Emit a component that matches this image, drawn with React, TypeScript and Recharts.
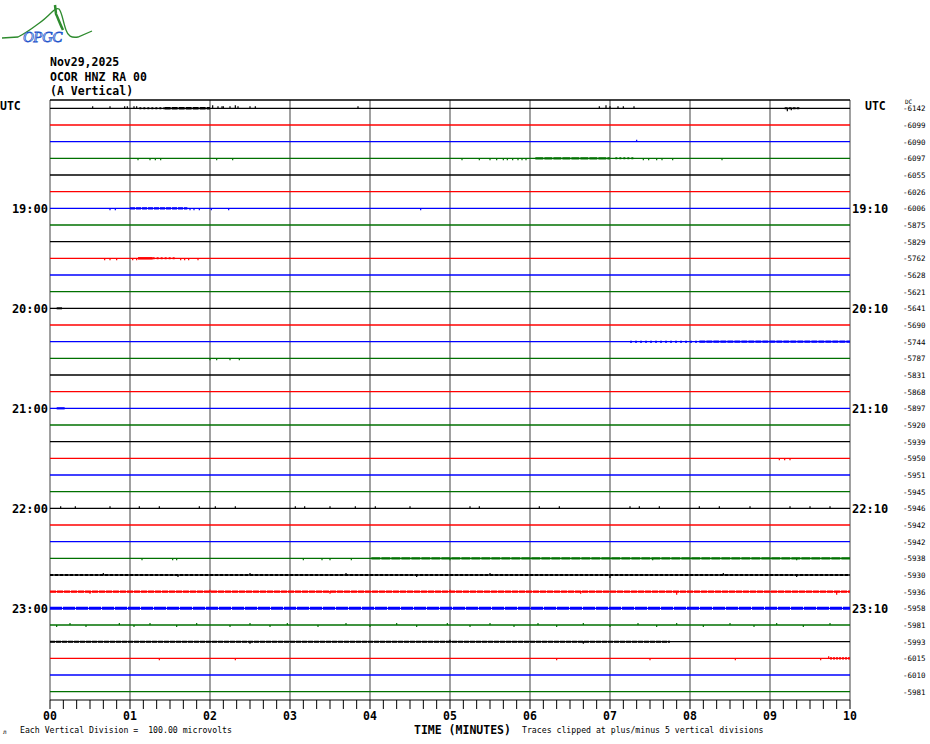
import React from 'react';
import { ComposedChart, Line, Scatter, XAxis, YAxis, ReferenceLine } from 'recharts';

// ---------- data ----------
const TRACE_COLORS = ['#000000', '#ff0000', '#0000ff', '#007000'];

// DC offset printed at the right of each 10-minute trace (18:00 .. 23:50)
const DC_OFFSETS = [
  -6142, -6099, -6090, -6097, -6055, -6026, -6006, -5875, -5829, -5762, -5628, -5621,
  -5641, -5690, -5744, -5787, -5831, -5868, -5897, -5920, -5939, -5950, -5951, -5945,
  -5946, -5942, -5942, -5938, -5930, -5936, -5958, -5981, -5993, -6015, -6010, -5981,
];

const HOUR_ROWS = [6, 12, 18, 24, 30];
const LEFT_HOUR_LABELS = ['19:00', '20:00', '21:00', '22:00', '23:00'];
const RIGHT_HOUR_LABELS = ['19:10', '20:10', '21:10', '22:10', '23:10'];
const MINUTE_LABELS = ['00', '01', '02', '03', '04', '05', '06', '07', '08', '09', '10'];
const TRACE_SECONDS = [0, 600];

// bursts of dense signal: [row, startSec, endSec, thicknessPx, dash]
const BURSTS: [number, number, number, number, string][] = [
  [0, 67, 86, 2, '2 2'], [0, 86, 120, 2.5, '6 1'], [0, 551, 562, 2, '3 1'],
  [3, 364, 420, 2.3, '8 1'], [3, 424, 439, 2, '2 2'],
  [6, 60, 103, 2.2, '5 1'],
  [9, 66, 77, 2.5, ''], [9, 77, 94, 2, '2 2'],
  [12, 5, 9, 2, ''],
  [14, 435, 487, 2, '2 3'], [14, 487, 600, 2.3, '6 1'],
  [18, 5, 11, 2.2, ''],
  [27, 241, 600, 2.3, '9 1'],
  [28, 0, 600, 2, '3 2'],
  [29, 0, 600, 2.3, '6 1'],
  [30, 0, 600, 3, '12 1'],
  [32, 0, 465, 2, '5 1'],
  [33, 585, 600, 2.2, '2 1'],
];

// isolated spikes: [row, sec, heightPx (positive = upward)]
const SPIKES: [number, number, number][] = [
  [0, 32, 2], [0, 45, 2], [0, 56, 2], [0, 58, 2], [0, 63, 2], [0, 65, 2], [0, 122, 3], [0, 126, 2],
  [0, 129, 2], [0, 130, 2], [0, 135, 2], [0, 139, 3], [0, 141, 2], [0, 150, 2], [0, 154, 2],
  [0, 231, 2], [0, 412, 2], [0, 417, 3], [0, 420, 2], [0, 426, 2], [0, 430, 2], [0, 438, 2],
  [0, 553, -3], [0, 556, -2],
  [2, 440, 2],
  [3, 66, -2], [3, 75, -2], [3, 79, -2], [3, 83, -2], [3, 125, -2], [3, 137, -2],
  [3, 309, -2], [3, 322, -2], [3, 330, -2], [3, 335, -2], [3, 340, -2], [3, 343, -2], [3, 347, -2],
  [3, 351, -2], [3, 354, -2], [3, 357, -2], [3, 445, -2], [3, 449, -2], [3, 455, -2], [3, 459, -2],
  [3, 467, -2], [3, 504, -2],
  [6, 45, -2], [6, 49, -2], [6, 105, -2], [6, 108, -2], [6, 112, -2], [6, 121, -2], [6, 134, -2], [6, 278, -2],
  [9, 41, -2], [9, 45, -2], [9, 50, -2], [9, 62, -2], [9, 65, -2], [9, 98, -2], [9, 101, -2], [9, 104, -2], [9, 111, -2],
  [15, 120, -2], [15, 125, -2], [15, 135, -2], [15, 142, -2],
  [21, 547, -2], [21, 551, -2], [21, 555, -2],
  [24, 8, 2], [24, 19, 2], [24, 45, 2], [24, 67, 2], [24, 82, 2], [24, 112, 2], [24, 124, 2],
  [24, 139, 2], [24, 184, 2], [24, 191, 2], [24, 210, 2], [24, 229, 2], [24, 244, 2], [24, 270, 2],
  [24, 315, 2], [24, 322, 2], [24, 367, 2], [24, 382, 2], [24, 435, 2], [24, 442, 2], [24, 457, 2],
  [24, 487, 2], [24, 502, 2], [24, 525, 2], [24, 555, 2], [24, 570, 2], [24, 585, 2],
  [27, 69, -2], [27, 92, -2], [27, 95, -2], [27, 190, -2], [27, 204, -2], [27, 210, -2], [27, 226, -2],
  [27, 300, -2], [27, 452, -2], [27, 560, -2],
  [28, 40, 2], [28, 96, -2], [28, 150, 2], [28, 222, 2], [28, 275, -2], [28, 330, 2], [28, 420, -3], [28, 505, 2], [28, 560, -2],
  [29, 30, -2], [29, 120, 2], [29, 210, -2], [29, 300, 2], [29, 398, -2], [29, 470, -3], [29, 590, -3],
  [31, 5, -2], [31, 15, 2], [31, 27, -2], [31, 52, 2], [31, 63, -2], [31, 75, 2], [31, 95, -2],
  [31, 110, 2], [31, 135, -2], [31, 150, 2], [31, 165, -2], [31, 178, 2], [31, 201, -2], [31, 222, 2],
  [31, 240, -2], [31, 260, 2], [31, 275, -2], [31, 298, 2], [31, 315, -2], [31, 330, 2], [31, 348, -2],
  [31, 366, 2], [31, 380, -2], [31, 400, 2], [31, 420, -2], [31, 441, 2], [31, 455, -2], [31, 470, 2],
  [31, 490, -2], [31, 510, 2], [31, 528, -2], [31, 545, 2], [31, 565, -2], [31, 585, 2],
  [32, 150, -2], [32, 300, 2], [32, 400, -2],
  [33, 82, -2], [33, 139, -2], [33, 380, -2], [33, 450, -2], [33, 514, -2], [33, 578, -2], [33, 584, 2],
];

// ---------- derived tables ----------
const ROWS = DC_OFFSETS.map((_, i) => i);
const X_TICKS = Array.from({ length: 61 }, (_, i) => i * 10);
const MINUTE_TICKS = MINUTE_LABELS.map((_, i) => i * 60);
const traceData = (row: number) => TRACE_SECONDS.map((t) => ({ t, row }));
const spikeData = SPIKES.map(([row, t, h]) => ({ t, row, h }));

const MONO = '"DejaVu Sans Mono", "Liberation Mono", monospace';

const LeftTick = (props: any) => {
  const { y, payload } = props;
  const row = payload.value as number;
  if (row === 0) {
    return (
      <text x={0} y={y + 2} fontFamily={MONO} fontWeight="bold" fontSize={11.5} fill="#000">UTC</text>
    );
  }
  const k = HOUR_ROWS.indexOf(row);
  if (k < 0) return <g />;
  return (
    <text x={48} y={y + 5} textAnchor="end" fontFamily={MONO} fontWeight="bold" fontSize={12} fill="#000">
      {LEFT_HOUR_LABELS[k]}
    </text>
  );
};

const RightTick = (props: any) => {
  const { y, payload } = props;
  const row = payload.value as number;
  const k = HOUR_ROWS.indexOf(row);
  return (
    <g>
      {row === 0 && (
        <>
          <text x={865} y={y + 2} fontFamily={MONO} fontWeight="bold" fontSize={11.5} fill="#000">UTC</text>
          <text x={905} y={y - 4.5} fontFamily={MONO} fontSize={6} fill="#000">DC</text>
        </>
      )}
      {k >= 0 && (
        <text x={852} y={y + 5} fontFamily={MONO} fontWeight="bold" fontSize={12} fill="#000">
          {RIGHT_HOUR_LABELS[k]}
        </text>
      )}
      <text x={903} y={y + 3} fontFamily={MONO} fontSize={7.5} fill="#000">
        {String(DC_OFFSETS[row])}
      </text>
    </g>
  );
};

const BottomTick = (props: any) => {
  const { x, y, payload } = props;
  const t = payload.value as number;
  const m = MINUTE_TICKS.indexOf(t);
  return (
    <g>
      <line x1={x} x2={x} y1={y} y2={y + 9} stroke="#000" strokeWidth={1} />
      {m >= 0 && (
        <text x={x} y={y + 20} textAnchor="middle" fontFamily={MONO} fontWeight="bold" fontSize={11.5} fill="#000">
          {MINUTE_LABELS[m]}
        </text>
      )}
    </g>
  );
};

const SpikeShape = (props: any) => {
  const { cx, cy, payload } = props;
  if (cx == null || cy == null) return <g />;
  const color = TRACE_COLORS[payload.row % 4];
  return <line x1={cx} x2={cx} y1={cy} y2={cy - payload.h} stroke={color} strokeWidth={1.2} />;
};

const Logo = () => (
  <g>
    <path d="M2,38 L18,37 C26,33 30,30 38,24 C44,20 48,16 52,12 C55,9 57,8 59,9 C62,12 63,22 66,30 C68,36 71,38 78,37 L92,31"
      fill="none" stroke="#2e8b2e" strokeWidth={1.3} />
    <path d="M55,5 L56,14 C58,18 60,24 63,30" fill="none" stroke="#2e8b2e" strokeWidth={2.5} />
    <text x={23} y={42} fontFamily="Liberation Serif, serif" fontStyle="italic" fontSize={15}
      fill="none" stroke="#2255cc" strokeWidth={0.8} letterSpacing={-0.5}>OPGC</text>
  </g>
);

export default function App() {
  return (
    <div style={{ position: 'absolute', left: 0, top: 0, width: 930, height: 744, background: '#fff' }}>
      <ComposedChart width={930} height={744} margin={{ top: 100, right: 0, bottom: 0, left: 0 }}>
        <XAxis dataKey="t" type="number" domain={[0, 600]} ticks={X_TICKS} interval={0}
          height={44} tickLine={false} tickSize={0} tickMargin={0}
          axisLine={{ stroke: '#000', strokeWidth: 1 }} tick={<BottomTick />} allowDataOverflow />
        <YAxis yAxisId="left" type="number" domain={[-0.5, 35.5]} reversed ticks={ROWS} interval={0}
          width={50} axisLine={false} tickLine={false} tick={<LeftTick />} allowDataOverflow />
        <YAxis yAxisId="right" orientation="right" type="number" domain={[-0.5, 35.5]} reversed ticks={ROWS}
          interval={0} width={80} axisLine={false} tickLine={false} tick={<RightTick />} allowDataOverflow />

        {MINUTE_TICKS.map((t) => (
          <ReferenceLine key={'g' + t} yAxisId="left" x={t} stroke="#808080" strokeWidth={1.5} />
        ))}
        <ReferenceLine yAxisId="left" y={-0.5} stroke="#000" strokeWidth={1.5} />

        {ROWS.map((r) => (
          <Line key={'tr' + r} yAxisId="left" data={traceData(r)} dataKey="row" stroke={TRACE_COLORS[r % 4]}
            strokeWidth={1.3} dot={false} activeDot={false} isAnimationActive={false} />
        ))}
        {BURSTS.map(([r, s, e, w, d], i) => (
          <Line key={'b' + i} yAxisId="left" data={[{ t: s, row: r }, { t: e, row: r }]} dataKey="row"
            stroke={TRACE_COLORS[r % 4]} strokeWidth={w} strokeDasharray={d || undefined}
            dot={false} activeDot={false} isAnimationActive={false} />
        ))}
        <Scatter yAxisId="left" data={spikeData} dataKey="row" shape={<SpikeShape />} isAnimationActive={false} />
      </ComposedChart>

      <svg width={930} height={744} style={{ position: 'absolute', left: 0, top: 0, pointerEvents: 'none' }}>
        <Logo />
        <text x={50} y={66} fontFamily={MONO} fontWeight="bold" fontSize={11.5} fill="#000">Nov29,2025</text>
        <text x={50} y={81} fontFamily={MONO} fontWeight="bold" fontSize={11.5} fill="#000">OCOR HNZ RA 00</text>
        <text x={50} y={95} fontFamily={MONO} fontWeight="bold" fontSize={11.5} fill="#000">(A Vertical)</text>
        <text x={3} y={734} fontFamily={MONO} fontSize={6} fill="#000">л</text>
        <text x={20} y={733} fontFamily={MONO} fontSize={8.2} fill="#000" xmlSpace="preserve">Each Vertical Division =  100.00 microvolts</text>
        <text x={414} y={734} fontFamily={MONO} fontWeight="bold" fontSize={11.5} fill="#000">TIME (MINUTES)</text>
        <text x={522} y={733} fontFamily={MONO} fontSize={8.2} fill="#000">Traces clipped at plus/minus 5 vertical divisions</text>
      </svg>
    </div>
  );
}
